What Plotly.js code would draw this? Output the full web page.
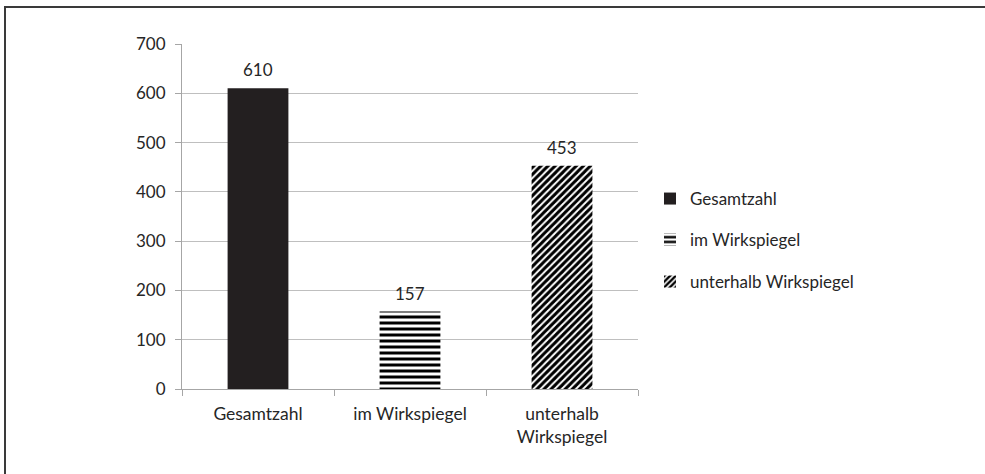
<!DOCTYPE html>
<html>
<head>
<meta charset="utf-8">
<script src="https://cdn.plot.ly/plotly-3.0.1.min.js"></script>
<style>
html,body{margin:0;padding:0;background:#fff;}
#frame{position:absolute;left:4px;top:6px;width:981px;height:468px;border-top:2px solid #3a3a3a;border-left:2px solid #3a3a3a;box-sizing:border-box;}
#chart{position:absolute;left:0;top:0;width:985px;height:474px;}
</style>
</head>
<body>
<div id="frame"></div>
<div id="chart"></div>
<script>
var categories = ["Gesamtzahl", "im Wirkspiegel", "unterhalb Wirkspiegel"];
var tickLabels = ["Gesamtzahl", "im Wirkspiegel", "unterhalb<br>Wirkspiegel"];
var values = [610, 157, 453];
var yTicks = [0, 100, 200, 300, 400, 500, 600, 700];

(function(){
var font = "Lato, 'Open Sans', sans-serif";
var txtColor = "#262626";
var fs = 17;

var patterns = [
  {shape: "", fgcolor: "#231f20", bgcolor: "#231f20"},
  {shape: "-", fgcolor: "#000000", bgcolor: "#ffffff", fgopacity: 1, size: 6, solidity: 0.5, fillmode: "replace"},
  {shape: "/", fgcolor: "#000000", bgcolor: "#ffffff", fgopacity: 1, size: 5, solidity: 0.6, fillmode: "replace"}
];
var colors = ["#231f20", "#ffffff", "#ffffff"];
var legendNames = ["legend", "legend2", "legend3"];
var legendY = [199, 240, 282];

var traces = categories.map(function(c, i){
  return {
    type: "bar",
    name: c,
    x: [tickLabels[i]],
    y: [values[i]],
    width: 0.4,
    marker: {color: colors[i], pattern: patterns[i], line: {width: 0}},
    legend: legendNames[i],
    hoverinfo: "none"
  };
});

var annotations = categories.map(function(c, i){
  return {
    x: tickLabels[i], y: values[i], xref: "x", yref: "y",
    text: String(values[i]), showarrow: false,
    yanchor: "bottom", yshift: 6,
    font: {family: font, size: fs, color: txtColor}
  };
});

var H = 474, pTop = 44, pBot = 389, pLeft = 182, pRight = 638;
var layout = {
  width: 985, height: 474,
  margin: {l: pLeft, r: 985 - pRight, t: pTop, b: H - pBot, pad: 0},
  paper_bgcolor: "rgba(0,0,0,0)",
  plot_bgcolor: "rgba(0,0,0,0)",
  barmode: "overlay",
  showlegend: true,
  font: {family: font, size: fs, color: txtColor},
  xaxis: {
    type: "category",
    categoryarray: tickLabels,
    showline: true, linecolor: "#a6a6a6", linewidth: 1,
    ticks: "outside", tickson: "boundaries", ticklen: 6, tickcolor: "#a6a6a6",
    showgrid: false,
    tickfont: {family: font, size: 17.5, color: txtColor},
    ticklabelstandoff: 9,
    fixedrange: true
  },
  yaxis: {
    range: [0, 700],
    tickvals: yTicks,
    ticktext: yTicks.map(String),
    showline: true, linecolor: "#a6a6a6", linewidth: 1,
    ticks: "outside", ticklen: 6, tickcolor: "#a6a6a6",
    showgrid: true, gridcolor: "#bfbfbf", gridwidth: 1,
    zeroline: false,
    tickfont: {family: font, size: fs, color: txtColor},
    ticklabelstandoff: 6,
    fixedrange: true
  },
  annotations: annotations
};

legendNames.forEach(function(ln, i){
  layout[ln] = {
    x: (650 - pLeft) / (pRight - pLeft),
    y: (pBot - legendY[i]) / (pBot - pTop),
    xanchor: "left", yanchor: "middle",
    bgcolor: "rgba(0,0,0,0)",
    font: {family: font, size: fs, color: txtColor},
    itemwidth: 30
  };
});

Plotly.newPlot("chart", traces, layout, {displayModeBar: false, staticPlot: true});
})();
</script>
</body>
</html>
